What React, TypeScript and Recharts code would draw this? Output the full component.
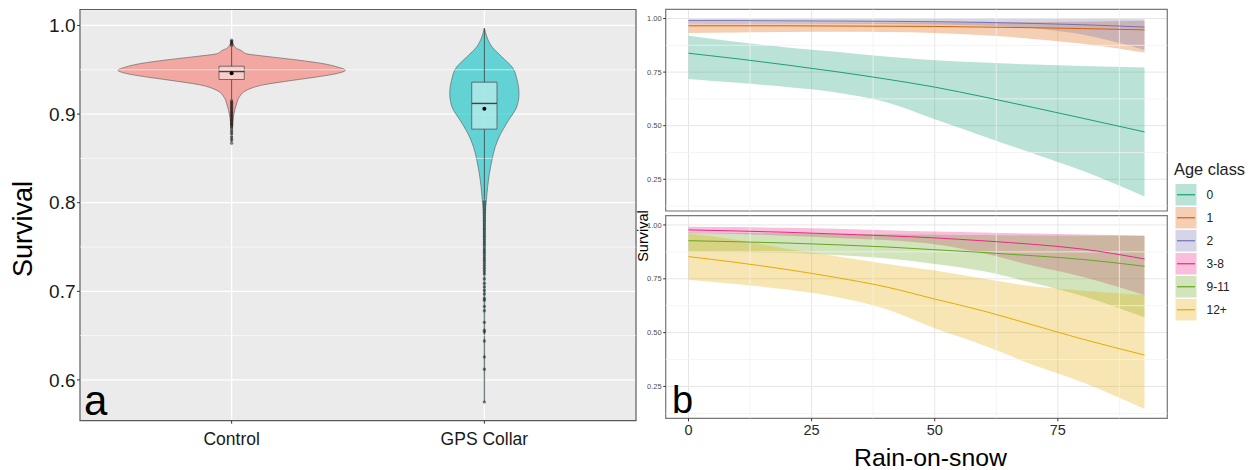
import React from 'react';
import {
  ComposedChart,
  Area,
  Line,
  XAxis,
  YAxis,
  CartesianGrid,
  ReferenceLine,
  ReferenceArea,
  ReferenceDot,
} from 'recharts';

const FONT = '"Liberation Sans", Arial, sans-serif';

// ---- panel a: survival by treatment (violins with box summaries) ----
const groups = ['Control', 'GPS Collar'];
const groupColors = ['#F8766D', '#00BFC4'];

// density profile: survival level -> half width of the violin (in group units)
const controlLevels = [0.868, 0.89, 0.904, 0.912, 0.919, 0.927, 0.933, 0.938, 0.942, 0.946, 0.9495, 0.953, 0.957, 0.961, 0.965, 0.968, 0.972, 0.974, 0.978, 0.983];
const controlHalfWidth = [0.002, 0.004, 0.012, 0.02, 0.03, 0.06, 0.126, 0.24, 0.34, 0.42, 0.45, 0.42, 0.36, 0.26, 0.14, 0.06, 0.036, 0.02, 0.008, 0.0];
const gpsLevels = [0.575, 0.65, 0.72, 0.76, 0.788, 0.803, 0.818, 0.833, 0.848, 0.863, 0.878, 0.893, 0.908, 0.923, 0.938, 0.953, 0.9646, 0.976, 0.987, 0.997];
const gpsHalfWidth = [0.001, 0.001, 0.002, 0.003, 0.004, 0.008, 0.013, 0.02, 0.03, 0.043, 0.065, 0.096, 0.128, 0.137, 0.13, 0.11, 0.069, 0.03, 0.01, 0.0];

const boxLow = [0.939, 0.883];
const boxHigh = [0.954, 0.936];
const boxMedian = [0.948, 0.912];
const boxMean = [0.946, 0.906];
const whiskerLow = [0.9165, 0.8035];
const whiskerHigh = [0.976, 0.997];

const controlOutliers = [
  0.915, 0.9135, 0.912, 0.9105, 0.909, 0.9075, 0.906, 0.9045, 0.903, 0.9015, 0.9, 0.8985, 0.897, 0.8955, 0.894,
  0.8925, 0.891, 0.8895, 0.888, 0.8865, 0.8844, 0.881, 0.878, 0.874, 0.871, 0.867, 0.9775, 0.979, 0.9805, 0.982, 0.9834,
];
const gpsOutliers = [
  0.801, 0.798, 0.795, 0.792, 0.789, 0.786, 0.783, 0.78, 0.777, 0.774, 0.771, 0.768, 0.765, 0.762, 0.759, 0.756,
  0.753, 0.75, 0.747, 0.744, 0.741, 0.738, 0.735, 0.732, 0.729, 0.726, 0.723, 0.7198, 0.714, 0.709, 0.705, 0.701,
  0.697, 0.692, 0.69, 0.683, 0.678, 0.665, 0.656, 0.654, 0.644, 0.626, 0.612, 0.575,
];

const survivalTicks = [0.6, 0.7, 0.8, 0.9, 1.0];
const survivalMinor = [0.65, 0.75, 0.85, 0.95];

// ---- panel b: survival against rain-on-snow per age class ----
const rainOnSnow = [0, 10, 20, 30, 40, 50, 60, 70, 80, 92.6];
const ageClasses = ['0', '1', '2', '3-8', '9-11', '12+'];
const ageColors = ['#1B9E77', '#D95F02', '#7570B3', '#E7298A', '#66A61E', '#E6AB02'];

const fit0 = [0.838, 0.812, 0.783, 0.752, 0.718, 0.68, 0.634, 0.585, 0.535, 0.471];
const low0 = [0.718, 0.7, 0.68, 0.655, 0.61, 0.53, 0.45, 0.37, 0.29, 0.17];
const high0 = [0.92, 0.89, 0.865, 0.845, 0.823, 0.805, 0.795, 0.785, 0.778, 0.771];

const fit1 = [0.966, 0.966, 0.966, 0.965, 0.964, 0.963, 0.96, 0.957, 0.953, 0.947];
const low1 = [0.932, 0.935, 0.937, 0.938, 0.937, 0.933, 0.922, 0.905, 0.882, 0.841];
const high1 = [0.981, 0.982, 0.982, 0.982, 0.982, 0.982, 0.982, 0.983, 0.985, 0.99];

const fit2 = [0.99, 0.99, 0.989, 0.988, 0.987, 0.985, 0.982, 0.977, 0.971, 0.96];
const low2 = [0.978, 0.977, 0.977, 0.976, 0.975, 0.972, 0.967, 0.955, 0.925, 0.853];
const high2 = [0.998, 0.998, 0.998, 0.998, 0.998, 0.998, 0.998, 0.998, 0.998, 0.997];

const fit3 = [0.977, 0.972, 0.966, 0.958, 0.95, 0.94, 0.926, 0.91, 0.888, 0.842];
const low3 = [0.963, 0.958, 0.95, 0.94, 0.93, 0.91, 0.868, 0.81, 0.76, 0.675];
const high3 = [0.992, 0.99, 0.987, 0.982, 0.976, 0.97, 0.965, 0.96, 0.956, 0.95];

const fit4 = [0.927, 0.922, 0.916, 0.908, 0.898, 0.885, 0.872, 0.857, 0.84, 0.808];
const low4 = [0.873, 0.872, 0.87, 0.86, 0.845, 0.819, 0.785, 0.73, 0.67, 0.571];
const high4 = [0.965, 0.963, 0.961, 0.959, 0.957, 0.955, 0.953, 0.951, 0.95, 0.95];

const fit5 = [0.853, 0.825, 0.793, 0.756, 0.713, 0.656, 0.6, 0.535, 0.47, 0.396];
const low5 = [0.746, 0.725, 0.7, 0.665, 0.61, 0.52, 0.44, 0.35, 0.27, 0.145];
const high5 = [0.96, 0.93, 0.89, 0.855, 0.82, 0.788, 0.75, 0.715, 0.695, 0.675];

const rosTicks = [0, 25, 50, 75];
const rosMinor = [12.5, 37.5, 62.5, 87.5];
const bSurvTicks = [0.25, 0.5, 0.75, 1.0];
const bSurvMinor = [0.125, 0.375, 0.625, 0.875];

const fits = [fit0, fit1, fit2, fit3, fit4, fit5];
const lows = [low0, low1, low2, low3, low4, low5];
const highs = [high0, high1, high2, high3, high4, high5];

const rows = rainOnSnow.map((x, i) => {
  const row: Record<string, any> = { x };
  ageClasses.forEach((_, k) => {
    row[`fit${k}`] = fits[k][i];
    row[`band${k}`] = [lows[k][i], highs[k][i]];
  });
  return row;
});

const violin = (levels: number[], half: number[], center: number) =>
  levels.map((s, i) => ({ s, v: [center - half[i], center + half[i]] }));

const violins = [violin(controlLevels, controlHalfWidth, 1), violin(gpsLevels, gpsHalfWidth, 2)];
const outliers = [controlOutliers, gpsOutliers];

const A_DOMAIN: [number, number] = [0.554, 1.018];
const B_X_DOMAIN: [number, number] = [-4.63, 97.23];
const B_Y_DOMAIN: [number, number] = [0.102, 1.043];

function PanelA() {
  return (
    <ComposedChart
      layout="vertical"
      width={650}
      height={470}
      margin={{ top: 9.5, right: 14, bottom: 19.3, left: 30 }}
    >
      <CartesianGrid fill="#EBEBEB" stroke="#FFFFFF" strokeWidth={1.3} />
      <XAxis
        type="number"
        domain={[0.4, 2.6]}
        ticks={[1, 2]}
        allowDataOverflow
        height={30}
        tickFormatter={(v) => groups[v - 1]}
        tick={{ fontSize: 17.5, fill: '#1a1a1a', fontFamily: FONT }}
        tickSize={3}
        tickMargin={9}
        tickLine={{ stroke: '#333' }}
        axisLine={false}
      />
      <YAxis
        type="number"
        dataKey="s"
        domain={A_DOMAIN}
        reversed
        allowDataOverflow
        ticks={survivalTicks}
        width={50}
        tickFormatter={(v) => v.toFixed(1)}
        tick={{ fontSize: 19, fill: '#1a1a1a', fontFamily: FONT }}
        tickSize={3}
        tickMargin={1.5}
        tickLine={{ stroke: '#333' }}
        axisLine={false}
      />
      {survivalMinor.map((v) => (
        <ReferenceLine key={v} y={v} stroke="#FFFFFF" strokeWidth={0.6} />
      ))}
      {violins.map((d, g) => (
        <Area
          key={groups[g]}
          data={d}
          dataKey="v"
          type="monotone"
          fill={groupColors[g]}
          fillOpacity={0.58}
          stroke="#555555"
          strokeWidth={0.6}
          dot={false}
          activeDot={false}
          isAnimationActive={false}
        />
      ))}
      {groups.map((name, g) => (
        <React.Fragment key={name}>
          <ReferenceLine
            segment={[{ x: g + 1, y: whiskerLow[g] }, { x: g + 1, y: boxLow[g] }]}
            stroke="#333"
            strokeOpacity={0.75}
            strokeWidth={1}
          />
          <ReferenceLine
            segment={[{ x: g + 1, y: boxHigh[g] }, { x: g + 1, y: whiskerHigh[g] }]}
            stroke="#333"
            strokeOpacity={0.75}
            strokeWidth={1}
          />
          <ReferenceArea
            x1={g + 1 - 0.05}
            x2={g + 1 + 0.05}
            y1={boxLow[g]}
            y2={boxHigh[g]}
            fill="#FFFFFF"
            fillOpacity={0.42}
            stroke="#555"
            strokeOpacity={0.8}
            strokeWidth={1}
          />
          <ReferenceLine
            segment={[{ x: g + 1 - 0.05, y: boxMedian[g] }, { x: g + 1 + 0.05, y: boxMedian[g] }]}
            stroke="#444"
            strokeWidth={1.4}
          />
          {outliers[g].map((v, i) => (
            <ReferenceDot key={i} x={g + 1} y={v} r={1.7} fill="#000" fillOpacity={0.45} stroke="none" />
          ))}
          <ReferenceDot x={g + 1} y={boxMean[g]} r={2} fill="#000" stroke="none" />
        </React.Fragment>
      ))}
      <ReferenceArea
        x1={0.4}
        x2={2.6}
        y1={A_DOMAIN[0]}
        y2={A_DOMAIN[1]}
        fill="none"
        stroke="#5a5a5a"
        strokeWidth={1.2}
      />
    </ComposedChart>
  );
}

function PanelB({ ages, showX, height, top, bottom }: { ages: number[]; showX: boolean; height: number; top: number; bottom: number }) {
  return (
    <ComposedChart
      data={rows}
      width={560}
      height={height}
      margin={{ top, right: 12.7, bottom, left: 5.7 }}
    >
      <CartesianGrid stroke="#E6E6E6" strokeWidth={1} />
      {rosMinor.map((v) => (
        <ReferenceLine key={`x${v}`} x={v} stroke="#F1F1F1" strokeWidth={0.8} />
      ))}
      {bSurvMinor.map((v) => (
        <ReferenceLine key={`y${v}`} y={v} stroke="#F1F1F1" strokeWidth={0.8} />
      ))}
      <XAxis
        type="number"
        dataKey="x"
        domain={B_X_DOMAIN}
        allowDataOverflow
        ticks={rosTicks}
        hide={!showX}
        height={30}
        tick={{ fontSize: 14.5, fill: '#2b2b2b', fontFamily: FONT }}
        tickSize={3}
        tickMargin={3}
        tickLine={{ stroke: '#333' }}
        axisLine={false}
      />
      <YAxis
        type="number"
        domain={B_Y_DOMAIN}
        allowDataOverflow
        ticks={bSurvTicks}
        width={40}
        tickFormatter={(v) => v.toFixed(2)}
        tick={{ fontSize: 7.5, fill: '#4D4D4D', fontFamily: FONT }}
        tickSize={2.5}
        tickMargin={1.5}
        tickLine={{ stroke: '#333' }}
        axisLine={false}
      />
      {ages.map((k) => (
        <Area
          key={`band${k}`}
          dataKey={`band${k}`}
          type="monotone"
          fill={ageColors[k]}
          fillOpacity={0.3}
          stroke="none"
          activeDot={false}
          isAnimationActive={false}
        />
      ))}
      {ages.map((k) => (
        <Line
          key={`fit${k}`}
          dataKey={`fit${k}`}
          type="monotone"
          stroke={ageColors[k]}
          strokeWidth={1}
          dot={false}
          activeDot={false}
          isAnimationActive={false}
        />
      ))}
      <ReferenceArea
        x1={B_X_DOMAIN[0]}
        x2={B_X_DOMAIN[1]}
        y1={B_Y_DOMAIN[0]}
        y2={B_Y_DOMAIN[1]}
        fill="none"
        stroke="#7a7a7a"
        strokeWidth={1.2}
      />
    </ComposedChart>
  );
}

export default function App() {
  return (
    <div style={{ position: 'absolute', left: 0, top: 0, width: 1255, height: 470, background: '#fff', fontFamily: FONT }}>
      <div style={{ position: 'absolute', left: 0, top: 0 }}>
        <PanelA />
      </div>
      <div style={{ position: 'absolute', left: 620, top: 0 }}>
        <PanelB ages={[0, 1, 2]} showX={false} height={220} top={9.3} bottom={9} />
      </div>
      <div style={{ position: 'absolute', left: 620, top: 205 }}>
        <PanelB ages={[3, 4, 5]} showX height={265} top={10.7} bottom={21.7} />
      </div>
      <svg width={1255} height={470} style={{ position: 'absolute', left: 0, top: 0, pointerEvents: 'none' }}>
        <text x={23} y={229} transform="rotate(-90 23 229)" textAnchor="middle" dominantBaseline="central" fontSize={27} fill="#000" fontFamily={FONT}>
          Survival
        </text>
        <text x={84} y={415} fontSize={42} fill="#000" fontFamily={FONT}>a</text>
        <text x={672} y={413} fontSize={38} fill="#000" fontFamily={FONT}>b</text>
        <text x={643} y={236} transform="rotate(-90 643 236)" textAnchor="middle" dominantBaseline="central" fontSize={14.5} fill="#000" fontFamily={FONT}>
          Survival
        </text>
        <text x={930.5} y={466} textAnchor="middle" fontSize={24.8} fill="#000" fontFamily={FONT}>
          Rain-on-snow
        </text>
        <text x={1174} y={175} fontSize={16.4} fill="#222" fontFamily={FONT}>Age class</text>
        {ageClasses.map((name, k) => {
          const y = 184 + k * 23;
          return (
            <g key={name}>
              <rect x={1175.5} y={y} width={21} height={21.5} fill={ageColors[k]} fillOpacity={0.3} />
              <line x1={1177} x2={1195} y1={y + 10.75} y2={y + 10.75} stroke={ageColors[k]} strokeWidth={1.2} />
              <text x={1206.5} y={y + 15} fontSize={12} fill="#222" fontFamily={FONT}>{name}</text>
            </g>
          );
        })}
      </svg>
    </div>
  );
}
